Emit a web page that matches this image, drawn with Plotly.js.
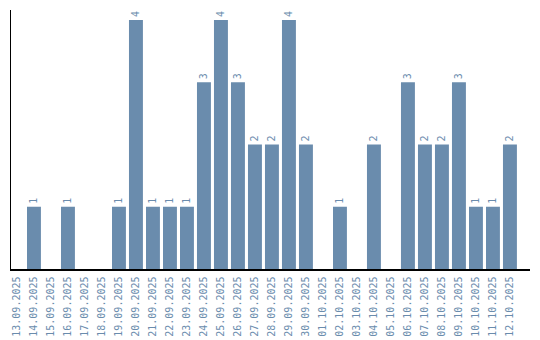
<!DOCTYPE html>
<html><head><meta charset="utf-8">
<script src="https://cdn.plot.ly/plotly-3.0.1.min.js"></script>
<style>html,body{margin:0;padding:0;background:#fff}#c{width:540px;height:340px}</style>
</head><body><div id="c"></div>
<script>
var dates = ["13.09.2025","14.09.2025","15.09.2025","16.09.2025","17.09.2025","18.09.2025","19.09.2025","20.09.2025","21.09.2025","22.09.2025","23.09.2025","24.09.2025","25.09.2025","26.09.2025","27.09.2025","28.09.2025","29.09.2025","30.09.2025","01.10.2025","02.10.2025","03.10.2025","04.10.2025","05.10.2025","06.10.2025","07.10.2025","08.10.2025","09.10.2025","10.10.2025","11.10.2025","12.10.2025"];
var counts = [0,1,0,1,0,0,1,4,1,1,1,3,4,3,2,2,4,2,0,1,0,2,0,3,2,2,3,1,1,2];
var labels = counts.map(function(v){return v>0?String(v):"";});
var col = "#6a8cad";
var fnt = {family:"DejaVu Sans Mono, monospace", size:10, color:col};
Plotly.newPlot("c",[{
  type:"bar", x:dates, y:counts, text:labels, textposition:"outside", textangle:-90,
  textfont:fnt, cliponaxis:false, marker:{color:col}, hoverinfo:"none"
}],{
  width:540,height:340,margin:{l:11,r:10,t:10,b:71},
  paper_bgcolor:"#fff",plot_bgcolor:"#fff",bargap:0.18,showlegend:false,
  xaxis:{type:"category",range:[-0.35,30.18],tickangle:-90,tickfont:fnt,ticklabelstandoff:2,showline:true,linecolor:"#000",linewidth:1.5,ticks:"",showgrid:false,zeroline:false},
  yaxis:{range:[0,4.16],showticklabels:false,ticks:"",showline:true,linecolor:"#000",linewidth:1.5,showgrid:false,zeroline:false}
},{staticPlot:true});
</script></body></html>
